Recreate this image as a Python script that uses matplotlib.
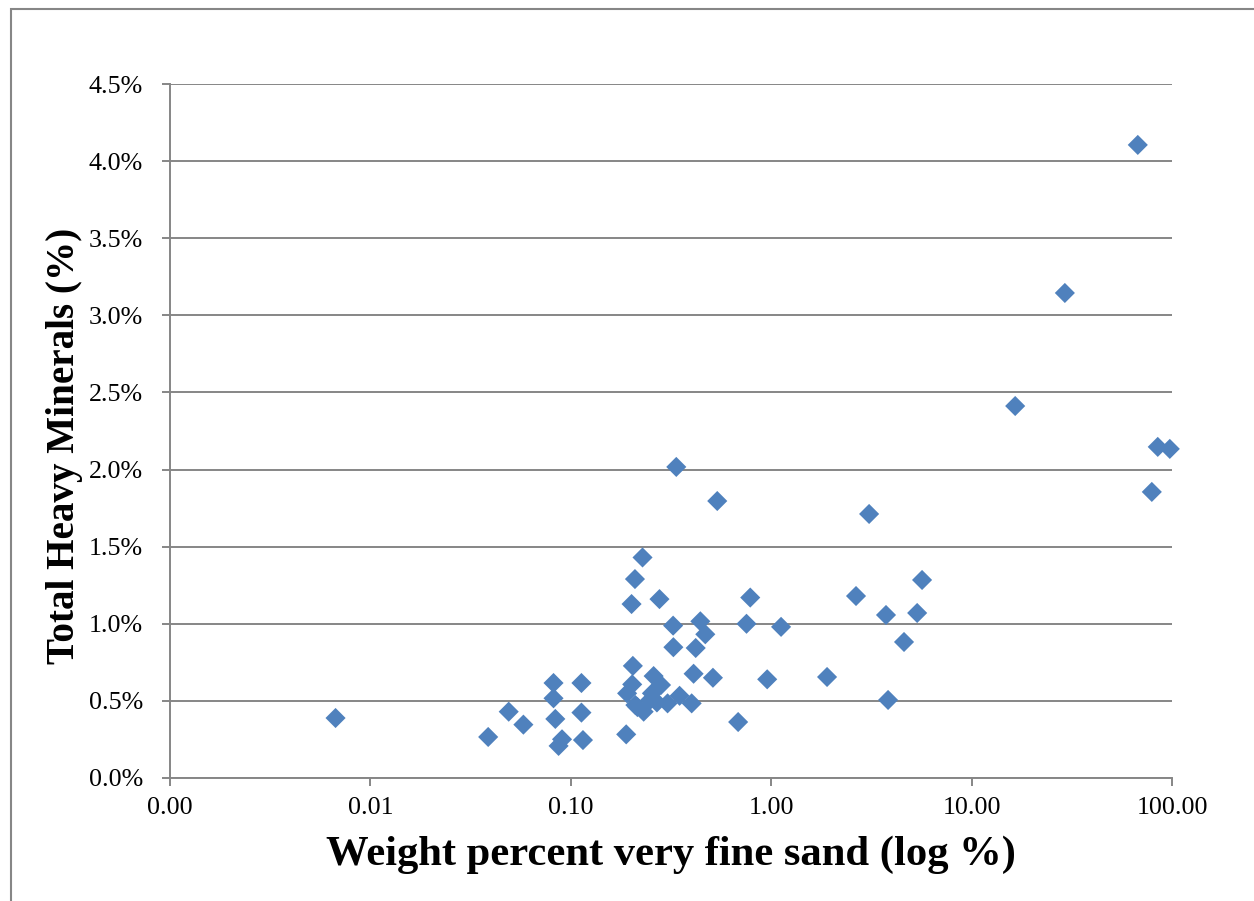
import numpy as np
import matplotlib
matplotlib.use("Agg")
import matplotlib.pyplot as plt
from matplotlib.patches import Rectangle
from matplotlib.ticker import FixedLocator, FixedFormatter, NullLocator

# Weight percent very fine sand (%), Total heavy minerals (%)
vfs_pct = [0.0067, 0.0387, 0.049, 0.058, 0.082, 0.082, 0.0837, 0.0869, 0.0904,
           0.113, 0.113, 0.115, 0.189, 0.191, 0.2025, 0.204, 0.201, 0.209, 0.228,
           0.21, 0.215, 0.231, 0.249, 0.254, 0.259, 0.269, 0.277, 0.282, 0.304,
           0.324, 0.325, 0.336, 0.349, 0.401, 0.41, 0.42, 0.443, 0.469, 0.512,
           0.538, 0.684, 0.753, 0.786, 0.955, 1.12, 1.90, 2.65, 3.08, 3.74, 3.83,
           4.6, 5.35, 5.66, 16.5, 29.2, 67.5, 79.3, 84.9, 97.5]
thm_pct = [0.389, 0.266, 0.43, 0.346, 0.616, 0.517, 0.383, 0.208, 0.251,
           0.616, 0.424, 0.246, 0.283, 0.549, 0.607, 0.727, 1.128, 1.29, 1.43,
           0.473, 0.46, 0.43, 0.506, 0.549, 0.661, 0.49, 1.16, 0.603, 0.484,
           0.988, 0.848, 2.017, 0.533, 0.484, 0.676, 0.843, 1.016, 0.932, 0.65,
           1.796, 0.363, 1.0, 1.17, 0.64, 0.98, 0.655, 1.18, 1.712, 1.057, 0.506,
           0.882, 1.07, 1.284, 2.412, 3.145, 4.105, 1.855, 2.147, 2.134]

x_ticks = [0.001, 0.01, 0.1, 1, 10, 100]
x_tick_labels = ["0.00", "0.01", "0.10", "1.00", "10.00", "100.00"]
y_ticks = [0.0, 0.5, 1.0, 1.5, 2.0, 2.5, 3.0, 3.5, 4.0, 4.5]
y_tick_labels = ["0.0%", "0.5%", "1.0%", "1.5%", "2.0%", "2.5%", "3.0%", "3.5%", "4.0%", "4.5%"]

x_label = "Weight percent very fine sand (log %)"
y_label = "Total Heavy Minerals (%)"

plt.rcParams['font.family'] = ['Liberation Serif', 'DejaVu Serif']

W, H = 1254, 901
fig = plt.figure(figsize=(W / 100, H / 100), dpi=100)
ax = fig.add_axes([170 / W, 1 - 778 / H, (1172 - 170) / W, (778 - 84) / H])

grey = '#868686'
ax.set_xscale('log')
ax.set_xlim(0.001, 100)
ax.set_ylim(0, 4.5)

ax.scatter(vfs_pct, thm_pct, marker='D', s=105, color='#4F81BD',
           edgecolors='none', zorder=3, clip_on=False)

ax.xaxis.set_major_locator(FixedLocator(x_ticks))
ax.xaxis.set_major_formatter(FixedFormatter(x_tick_labels))
ax.xaxis.set_minor_locator(NullLocator())
ax.set_yticks(y_ticks)
ax.set_yticklabels(y_tick_labels)

ax.yaxis.grid(True, color=grey, linewidth=1.4)
ax.set_axisbelow(True)
for s in ['top', 'right']:
    ax.spines[s].set_visible(False)
for s in ['left', 'bottom']:
    ax.spines[s].set_color(grey)
    ax.spines[s].set_linewidth(1.4)

ax.tick_params(axis='both', colors=grey, labelcolor='black', labelsize=18.7,
               length=5.8, width=1.4, direction='out')
ax.tick_params(axis='x', pad=8)
ax.tick_params(axis='y', pad=13.5)

ax.set_xlabel(x_label, fontsize=30.7, fontweight='bold', labelpad=12)
ax.set_ylabel(y_label, fontsize=28.2, fontweight='bold', labelpad=4)
ax.yaxis.label.set_y(0.5 - 15 / 694)

frame = Rectangle((11 / W, -0.5), 2.0, 1 - 9 / H + 0.5, transform=fig.transFigure,
                  fill=False, edgecolor=grey, linewidth=1.5, zorder=0)
fig.patches.append(frame)

fig.savefig('out.png', dpi=100)
